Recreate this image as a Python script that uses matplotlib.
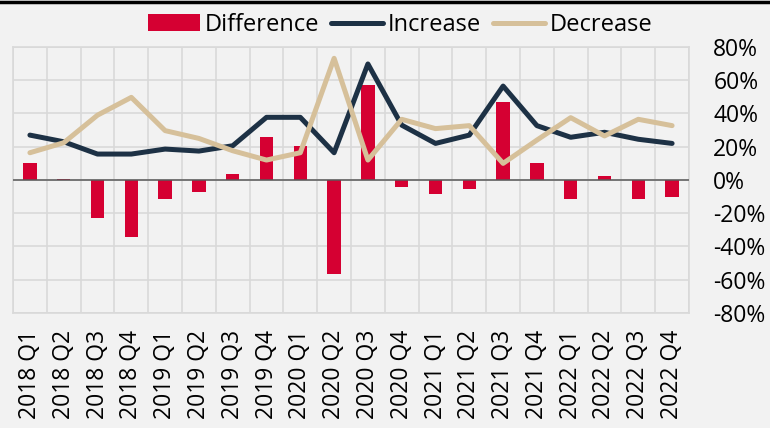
import numpy as np
import matplotlib.pyplot as plt
from matplotlib.lines import Line2D
from matplotlib.ticker import FuncFormatter

plt.rcParams['font.family'] = ['Open Sans', 'DejaVu Sans']

quarters = ['2018 Q1', '2018 Q2', '2018 Q3', '2018 Q4',
            '2019 Q1', '2019 Q2', '2019 Q3', '2019 Q4',
            '2020 Q1', '2020 Q2', '2020 Q3', '2020 Q4',
            '2021 Q1', '2021 Q2', '2021 Q3', '2021 Q4',
            '2022 Q1', '2022 Q2', '2022 Q3', '2022 Q4']

increase = [27, 23, 15.6, 15.6, 18.6, 17.4, 20.6, 37.7, 37.7, 16.4,
            69.8, 33, 22, 27, 56.5, 32.7, 25.7, 28.7, 24.5, 22]
decrease = [16.4, 22.4, 39, 49.7, 29.7, 25, 17.6, 12, 16.4, 73.2,
            12, 36.5, 30.9, 32.7, 10, 24, 37.5, 26.5, 36.5, 32.7]
difference = [10, 0.5, -22.7, -34.3, -11.2, -7.4, 3.6, 26, 20.6, -56.4,
              57, -4, -8.6, -5.2, 47, 10, -11.6, 2.6, -11.6, -10.4]

bg = '#f2f2f2'
red = '#d50032'
navy = '#1d3145'
tan = '#d6c09a'

fig = plt.figure(figsize=(7.7, 4.28), dpi=100, facecolor=bg)
ax = fig.add_axes([0.0169, 0.2687, 0.8779, 0.6215])
ax.set_facecolor(bg)

x = np.arange(len(quarters))
b = ax.bar(x, difference, width=0.4, color=red, label='Difference', zorder=3)
l1, = ax.plot(x, increase, color=navy, lw=3.6, label='Increase', zorder=4,
              solid_capstyle='round')
l2, = ax.plot(x, decrease, color=tan, lw=3.6, label='Decrease', zorder=4,
              solid_capstyle='round')
ax.axhline(0, color='#595959', lw=1.1, zorder=3.5)

ax.set_xlim(-0.5, len(quarters) - 0.5)
ax.set_ylim(-80, 80)
ax.set_yticks(np.arange(-80, 81, 20))
ax.yaxis.set_major_formatter(FuncFormatter(lambda v, p: '%d%%' % v))
ax.yaxis.tick_right()
ax.set_xticks(x)
ax.set_xticklabels(quarters, rotation=90, fontsize=16.5)
ax.set_xticks(np.arange(-0.5, len(quarters), 1), minor=True)
ax.tick_params(axis='y', length=0, pad=17.5, labelsize=16.5)
ax.tick_params(axis='x', which='both', length=0, pad=12)

ax.grid(True, axis='y', color='#d9d9d9', lw=1.2, zorder=0)
ax.grid(True, axis='x', which='minor', color='#d9d9d9', lw=1.2, zorder=0)
ax.grid(False, axis='x', which='major')
for s in ax.spines.values():
    s.set_color('#d9d9d9')
    s.set_linewidth(1.2)

fig.legend([b, l1, l2], ['Difference', 'Increase', 'Decrease'],
           loc='center', bbox_to_anchor=(400 / 770, 1 - 25 / 428), ncol=3,
           frameon=False, fontsize=17, handlelength=2.2, handletextpad=0.2,
           columnspacing=0.5, borderaxespad=0)

fig.add_artist(Line2D([0, 1], [0.996, 0.996], transform=fig.transFigure,
                      color='black', lw=2.5))

fig.savefig('out.png', dpi=100, facecolor=bg)
